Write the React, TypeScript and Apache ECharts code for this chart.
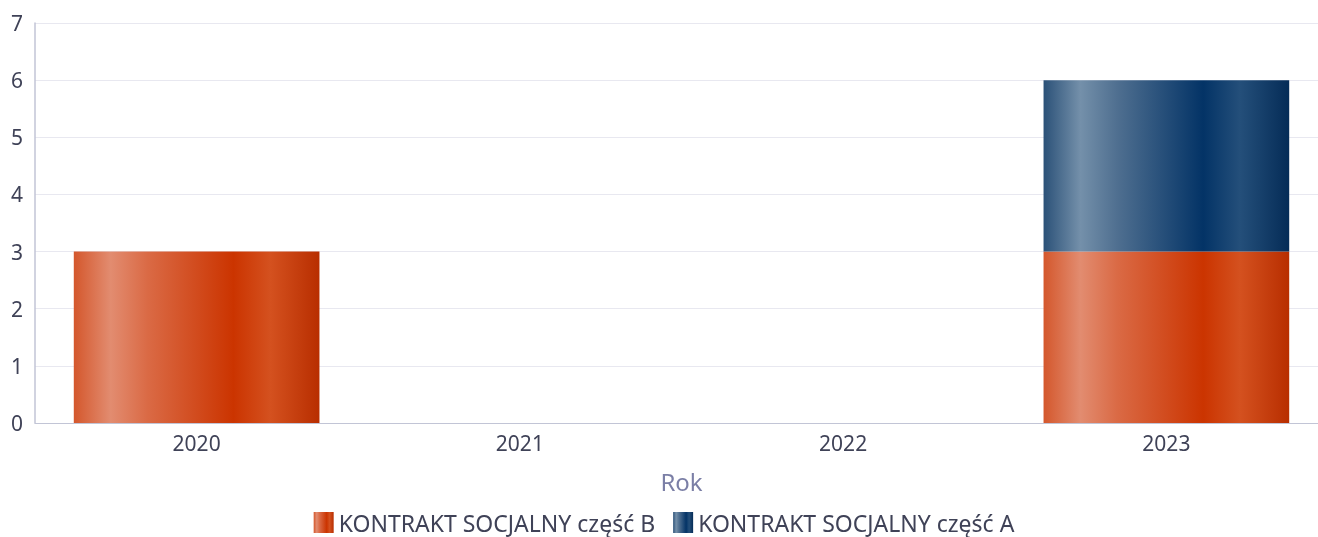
import React, { useEffect, useRef } from "react";
import * as echarts from "echarts";

const categories = ["2020", "2021", "2022", "2023"];
const seriesBName = "KONTRAKT SOCJALNY część B";
const seriesAName = "KONTRAKT SOCJALNY część A";
const seriesB = [3, 0, 0, 3];
const seriesA = [0, 0, 0, 3];
const yTicks = { min: 0, max: 7, interval: 1 };

const orangeGrad = () =>
  new echarts.graphic.LinearGradient(0, 0, 1, 0, [
    { offset: 0, color: "#d4572c" },
    { offset: 0.15, color: "#e28c70" },
    { offset: 0.3, color: "#da6a45" },
    { offset: 0.65, color: "#cb3400" },
    { offset: 0.8, color: "#d4511f" },
    { offset: 1, color: "#b82e00" },
  ]);
const blueGrad = () =>
  new echarts.graphic.LinearGradient(0, 0, 1, 0, [
    { offset: 0, color: "#2b5178" },
    { offset: 0.15, color: "#7490aa" },
    { offset: 0.3, color: "#4f6f90" },
    { offset: 0.65, color: "#033366" },
    { offset: 0.8, color: "#244f7a" },
    { offset: 1, color: "#052c57" },
  ]);

export default function App() {
  const ref = useRef<HTMLDivElement>(null);
  useEffect(() => {
    document.body.style.overflow = "hidden";
    const chart = echarts.init(ref.current!, null, { renderer: "svg" });
    const font = "Noto Sans";
    chart.setOption({
      animation: false,
      textStyle: { fontFamily: font },
      grid: { left: 35, right: 0, top: 23, bottom: 114, containLabel: false },
      legend: {
        top: 506,
        itemWidth: 20,
        itemHeight: 21,
        itemGap: 18,
        itemTextGap: 5,
        icon: "rect",
        textStyle: {
          fontSize: 23,
          lineHeight: 23,
          color: "#3f4257",
          fontFamily: font,
        },
        data: [
          { name: seriesBName, itemStyle: { color: orangeGrad() } },
          { name: seriesAName, itemStyle: { color: blueGrad() } },
        ],
      },
      xAxis: {
        type: "category",
        data: categories,
        name: "Rok",
        nameLocation: "middle",
        nameGap: 46,
        nameTextStyle: { fontSize: 24, color: "#7b7fa6", fontFamily: font },
        axisLine: { show: true, lineStyle: { color: "#c2c5d6", width: 1 } },
        axisTick: { show: false },
        axisLabel: { fontSize: 21, color: "#3f4257", margin: 9 },
      },
      yAxis: {
        type: "value",
        min: yTicks.min,
        max: yTicks.max,
        interval: yTicks.interval,
        axisLine: { show: true, lineStyle: { color: "#c2c5d6", width: 1.5 } },
        axisTick: { show: false },
        splitLine: { lineStyle: { color: "#e8e8f0" } },
        axisLabel: { fontSize: 21, color: "#3f4257", margin: 12 },
      },
      series: [
        {
          name: seriesBName,
          type: "bar",
          stack: "s",
          barWidth: "76%",
          data: seriesB,
          itemStyle: { color: orangeGrad() },
        },
        {
          name: seriesAName,
          type: "bar",
          stack: "s",
          barWidth: "76%",
          data: seriesA,
          itemStyle: { color: blueGrad() },
        },
      ],
    });
    return () => chart.dispose();
  }, []);
  return (
    <div
      ref={ref}
      style={{ position: "fixed", left: 0, top: 0, width: 1328, height: 537 }}
    />
  );
}
